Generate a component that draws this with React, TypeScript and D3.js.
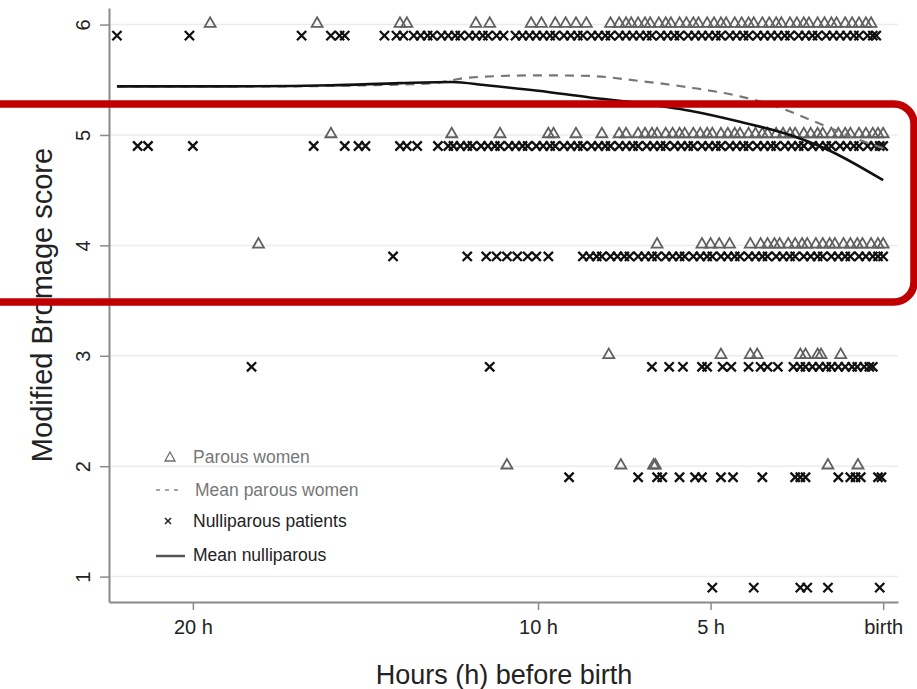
import * as d3 from "d3";
import React, { useEffect, useRef } from "react";

// hours before birth, read per score row
const parous6 = [19.5, 16.4, 14.0, 13.8, 11.8, 11.4, 10.2, 9.9, 9.5, 9.2, 8.9, 8.6, 7.9, 7.65, 7.45, 7.3, 7.1, 6.9, 6.75, 6.5, 6.3, 6.15, 5.9, 5.7, 5.5, 5.35, 5.1, 4.9, 4.7, 4.55, 4.3, 4.1, 3.9, 3.75, 3.5, 3.3, 3.1, 2.95, 2.7, 2.5, 2.3, 2.15, 1.9, 1.7, 1.5, 1.35, 1.1, 0.9, 0.7, 0.5, 0.35];
const nulli6 = [22.2, 20.1, 16.85, 16.0, 15.75, 15.6, 14.45, 14.1, 13.9, 13.6, 13.4, 13.2, 13.05, 12.8, 12.6, 12.4, 12.25, 12.0, 11.8, 11.6, 11.45, 11.2, 11.0, 10.65, 10.45, 10.25, 10.05, 9.85, 9.65, 9.5, 9.25, 9.05, 8.85, 8.7, 8.45, 8.25, 8.05, 7.9, 7.65, 7.45, 7.25, 7.05, 6.85, 6.7, 6.45, 6.25, 6.05, 5.9, 5.65, 5.45, 5.25, 5.05, 4.85, 4.7, 4.45, 4.25, 4.05, 3.9, 3.65, 3.45, 3.25, 3.05, 2.85, 2.7, 2.45, 2.25, 2.05, 1.9, 1.65, 1.45, 1.25, 1.05, 0.85, 0.7, 0.45, 0.3, 0.2];
const parous5 = [16.0, 12.5, 11.1, 9.7, 9.55, 8.9, 8.15, 7.65, 7.45, 7.1, 6.9, 6.7, 6.55, 6.3, 6.1, 5.9, 5.75, 5.5, 5.3, 5.1, 4.95, 4.7, 4.5, 4.3, 4.15, 3.9, 3.7, 3.5, 3.35, 3.1, 2.9, 2.7, 2.55, 2.3, 2.1, 1.9, 1.75, 1.5, 1.3, 1.1, 0.95, 0.7, 0.5, 0.3, 0.15, 0.0];
const nulli5 = [21.6, 21.3, 20.0, 16.5, 15.6, 15.2, 15.0, 14.0, 13.8, 13.5, 12.9, 12.6, 12.45, 12.25, 12.05, 11.9, 11.65, 11.45, 11.25, 11.1, 10.85, 10.65, 10.45, 10.3, 10.05, 9.85, 9.65, 9.5, 9.25, 9.05, 8.85, 8.7, 8.45, 8.25, 8.05, 7.9, 7.65, 7.45, 7.25, 7.1, 6.85, 6.65, 6.45, 6.3, 6.05, 5.85, 5.65, 5.5, 5.25, 5.05, 4.85, 4.7, 4.45, 4.25, 4.05, 3.9, 3.65, 3.45, 3.25, 3.1, 2.85, 2.65, 2.45, 2.3, 2.05, 1.85, 1.65, 1.5, 1.25, 1.05, 0.85, 0.7, 0.45, 0.25, 0.1, 0.0];
const parous4 = [18.1, 6.55, 5.25, 5.0, 4.75, 4.45, 3.85, 3.55, 3.35, 3.15, 3.0, 2.75, 2.55, 2.35, 2.2, 1.95, 1.75, 1.55, 1.4, 1.15, 0.95, 0.75, 0.6, 0.35, 0.15, 0.0];
const nulli4 = [14.2, 12.05, 11.5, 11.2, 10.9, 10.6, 10.3, 10.05, 9.7, 8.7, 8.5, 8.3, 8.15, 7.9, 7.7, 7.5, 7.35, 7.1, 6.9, 6.7, 6.55, 6.3, 6.1, 5.9, 5.75, 5.5, 5.3, 5.1, 4.95, 4.7, 4.5, 4.3, 4.15, 3.9, 3.7, 3.5, 3.35, 3.1, 2.9, 2.7, 2.55, 2.3, 2.1, 1.9, 1.75, 1.5, 1.3, 1.1, 0.95, 0.7, 0.5, 0.3, 0.15, 0.0];
const parous3 = [7.95, 4.7, 3.85, 3.65, 2.4, 2.25, 1.9, 1.8, 1.23];
const nulli3 = [18.3, 11.4, 6.7, 6.2, 5.8, 5.25, 5.1, 4.65, 4.4, 3.9, 3.55, 3.35, 3.05, 2.6, 2.4, 2.25, 2.05, 1.85, 1.65, 1.5, 1.3, 1.1, 0.9, 0.75, 0.55, 0.4, 0.3];
const parous2 = [10.9, 7.6, 6.65, 6.6, 1.6, 0.73];
const nulli2 = [9.1, 7.1, 6.55, 6.4, 5.9, 5.45, 5.25, 4.7, 4.35, 3.5, 2.55, 2.4, 2.25, 1.3, 0.95, 0.8, 0.65, 0.15, 0.05];
const nulli1 = [4.95, 3.75, 2.4, 2.2, 1.6, 0.1];

const parousRows = [
  { score: 6, hours: parous6 },
  { score: 5, hours: parous5 },
  { score: 4, hours: parous4 },
  { score: 3, hours: parous3 },
  { score: 2, hours: parous2 },
];
const nulliRows = [
  { score: 6, hours: nulli6 },
  { score: 5, hours: nulli5 },
  { score: 4, hours: nulli4 },
  { score: 3, hours: nulli3 },
  { score: 2, hours: nulli2 },
  { score: 1, hours: nulli1 },
];

// smoothed means: [hours, score]
const meanParous = [[22.2, 5.44], [18, 5.44], [15, 5.45], [13, 5.47], [12, 5.52], [10, 5.54], [8.55, 5.535], [7.08, 5.49], [5.6, 5.43], [4.15, 5.35], [3.2, 5.27], [1.9, 5.11], [0.9, 4.98], [0, 4.88]];
const meanNulli = [[22.2, 5.44], [19, 5.44], [16, 5.45], [14, 5.47], [12.5, 5.48], [11.5, 5.45], [10, 5.4], [8.5, 5.34], [7.1, 5.29], [5.6, 5.22], [4.15, 5.12], [2.7, 5.0], [1.7, 4.88], [0, 4.59]];

const xTicks = [20, 10, 5, 0];
const yTicks = [1, 2, 3, 4, 5, 6];

const W = 917;
const H = 689;
const font = "'Liberation Sans', Arial, sans-serif";

export default function App() {
  const svgRef = useRef(null);

  useEffect(() => {
    const svg = d3.select(svgRef.current);
    svg.selectAll("*").remove();

    const x = d3.scaleLinear().domain([22.43, -0.43]).range([109, 898]);
    const y = d3.scaleLinear().domain([0.77, 6.15]).range([602, 8]);

    // grid
    svg.append("g")
      .selectAll("line")
      .data(yTicks)
      .join("line")
      .attr("x1", x(22.43)).attr("x2", x(-0.43))
      .attr("y1", (d) => y(d)).attr("y2", (d) => y(d))
      .attr("stroke", "#ececec")
      .attr("stroke-width", 1.5);

    // parous triangles (gray, hollow)
    const triPts = parousRows.flatMap((r) => r.hours.map((h) => ({ h, s: r.score + 0.02 })));
    svg.append("g")
      .selectAll("path")
      .data(triPts)
      .join("path")
      .attr("d", (d) => {
        const cx = x(d.h), cy = y(d.s);
        return `M${cx - 5.5},${cy + 4.5}L${cx},${cy - 5}L${cx + 5.5},${cy + 4.5}Z`;
      })
      .attr("fill", "none")
      .attr("stroke", "#606060")
      .attr("stroke-width", 1.8);

    // nulliparous crosses
    const xPts = nulliRows.flatMap((r) => r.hours.map((h) => ({ h, s: r.score - 0.1 })));
    svg.append("g")
      .selectAll("path")
      .data(xPts)
      .join("path")
      .attr("d", (d) => {
        const cx = x(d.h), cy = y(d.s), k = 4.6;
        return `M${cx - k},${cy - k}L${cx + k},${cy + k}M${cx - k},${cy + k}L${cx + k},${cy - k}`;
      })
      .attr("fill", "none")
      .attr("stroke", "#111")
      .attr("stroke-width", 2.3);

    const line = d3.line().curve(d3.curveMonotoneX)
      .x((d) => x(d[0]))
      .y((d) => y(d[1]));

    svg.append("path")
      .datum(meanParous.slice().reverse())
      .attr("d", line)
      .attr("fill", "none")
      .attr("stroke", "#777")
      .attr("stroke-width", 2.2)
      .attr("stroke-dasharray", "9,7");

    svg.append("path")
      .datum(meanNulli.slice().reverse())
      .attr("d", line)
      .attr("fill", "none")
      .attr("stroke", "#111")
      .attr("stroke-width", 2.6);

    // axes
    const gx = svg.append("g").attr("transform", "translate(0,602)");
    gx.call(d3.axisBottom(x).tickValues(xTicks).tickSize(8).tickSizeOuter(0)
      .tickFormat((d) => (d === 0 ? "birth" : `${d} h`)));
    gx.select(".domain").attr("stroke", "#8a8a8a").attr("stroke-width", 2);
    gx.selectAll(".tick line").attr("stroke", "#8a8a8a").attr("stroke-width", 1.5);
    gx.selectAll(".tick text")
      .attr("font-family", font).attr("font-size", 20).attr("fill", "#222").attr("dy", "1.05em");

    const gy = svg.append("g").attr("transform", "translate(109,0)");
    gy.call(d3.axisLeft(y).tickValues(yTicks).tickSize(9).tickSizeOuter(0).tickFormat(d3.format("d")));
    gy.select(".domain").attr("stroke", "#8a8a8a").attr("stroke-width", 2);
    gy.selectAll(".tick line").attr("stroke", "#8a8a8a").attr("stroke-width", 1.5);
    gy.selectAll(".tick text")
      .attr("font-family", font).attr("font-size", 20).attr("fill", "#222")
      .attr("x", 0).attr("dy", 0)
      .attr("text-anchor", "middle")
      .attr("transform", "translate(-24,0) rotate(-90)")
      .attr("dominant-baseline", "middle");

    // axis titles
    svg.append("text")
      .attr("x", 504).attr("y", 684)
      .attr("text-anchor", "middle")
      .attr("font-family", font).attr("font-size", 27).attr("fill", "#222")
      .text("Hours (h) before birth");
    svg.append("text")
      .attr("transform", "translate(52,305) rotate(-90)")
      .attr("text-anchor", "middle")
      .attr("font-family", font).attr("font-size", 29).attr("fill", "#222")
      .text("Modified Bromage score");

    // legend
    const lg = svg.append("g").attr("font-family", font).attr("font-size", 17.5);
    lg.append("path").attr("d", "M165,461L170,452L175,461Z")
      .attr("fill", "none").attr("stroke", "#6e6e6e").attr("stroke-width", 1.3);
    lg.append("text").attr("x", 193).attr("y", 463).attr("fill", "#777").text("Parous women");
    lg.append("line").attr("x1", 156).attr("x2", 183).attr("y1", 490).attr("y2", 490)
      .attr("stroke", "#888").attr("stroke-width", 1.5).attr("stroke-dasharray", "4,5");
    lg.append("text").attr("x", 195).attr("y", 496).attr("fill", "#777").text("Mean parous women");
    lg.append("path").attr("d", "M165,518L171,524M165,524L171,518")
      .attr("stroke", "#222").attr("stroke-width", 1.5);
    lg.append("text").attr("x", 193).attr("y", 527).attr("fill", "#222").text("Nulliparous patients");
    lg.append("line").attr("x1", 156).attr("x2", 185).attr("y1", 556).attr("y2", 556)
      .attr("stroke", "#555").attr("stroke-width", 2.5);
    lg.append("text").attr("x", 193).attr("y", 561).attr("fill", "#222").text("Mean nulliparous");

    // red highlight box
    svg.append("rect")
      .attr("x", -20).attr("y", 104).attr("width", 934).attr("height", 198)
      .attr("rx", 20).attr("ry", 20)
      .attr("fill", "none")
      .attr("stroke", "#c00000")
      .attr("stroke-width", 7.5);
  });

  return (
    <svg
      ref={svgRef}
      width={W}
      height={H}
      style={{ position: "absolute", left: 0, top: 0, background: "#fff" }}
    ></svg>
  );
}
